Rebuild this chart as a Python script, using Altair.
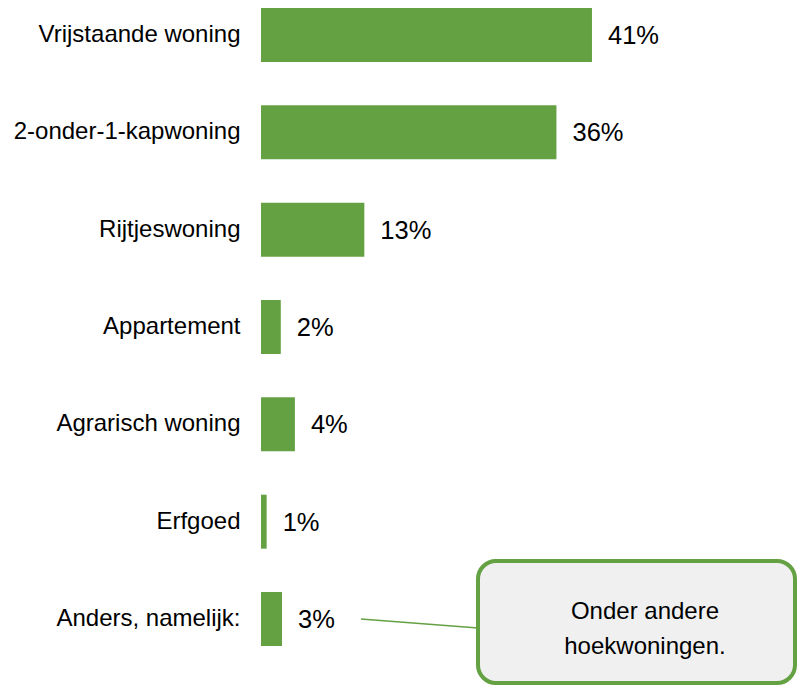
import altair as alt
import pandas as pd

categories = ["Vrijstaande woning", "2-onder-1-kapwoning", "Rijtjeswoning", "Appartement",
              "Agrarisch woning", "Erfgoed", "Anders, namelijk:"]
values = [41.0, 36.6, 12.8, 2.45, 4.2, 0.7, 2.6]
value_labels = ["41%", "36%", "13%", "2%", "4%", "1%", "3%"]
callout_text = "Onder andere\nhoekwoningen."

GREEN = "#64A143"
FONT = "Liberation Sans"

df = pd.DataFrame({"cat": categories, "val": values, "lab": value_labels})

W, H = 536, 638

y_enc = alt.Y("cat:N", sort=categories,
              scale=alt.Scale(paddingInner=0.4456, paddingOuter=0),
              axis=alt.Axis(title=None, domain=False, ticks=False, grid=False,
                            labelFont=FONT, labelFontSize=24, labelColor="#000000",
                            labelPadding=21, labelLimit=400))
x_enc = alt.X("val:Q", scale=alt.Scale(domain=[0, 66.4], nice=False, zero=True),
              axis=None)

bars = alt.Chart(df).mark_bar(color=GREEN).encode(x=x_enc, y=y_enc)

labels = alt.Chart(df).mark_text(align="left", baseline="middle", dx=16, dy=1,
                                 font=FONT, fontSize=25.5, color="#000000").encode(
    x=x_enc, y=alt.Y("cat:N", sort=categories), text="lab:N")

ann = pd.DataFrame({"t": [callout_text]})

connector = alt.Chart(ann).mark_rule(color=GREEN, strokeWidth=1.5).encode(
    x=alt.value(100), x2=alt.value(217), y=alt.value(611), y2=alt.value(620))

box = alt.Chart(ann).mark_rect(fill="#F0F0F0", stroke=GREEN, strokeWidth=4,
                                cornerRadius=18).encode(
    x=alt.value(217), x2=alt.value(534), y=alt.value(553), y2=alt.value(675))

box_text = alt.Chart(ann).mark_text(align="center", baseline="middle", lineBreak="\n",
                                    lineHeight=35, font=FONT, fontSize=24,
                                    color="#000000").encode(
    x=alt.value(384), y=alt.value(604), text="t:N")

chart = alt.layer(bars, labels, connector, box, box_text).properties(
    width=W, height=H,
    autosize=alt.AutoSizeParams(type="none"),
    padding={"left": 253, "top": 0, "right": 0, "bottom": 40},
).configure_view(stroke=None)

chart.save("out.html", embed_options={"renderer": "svg", "actions": False})
